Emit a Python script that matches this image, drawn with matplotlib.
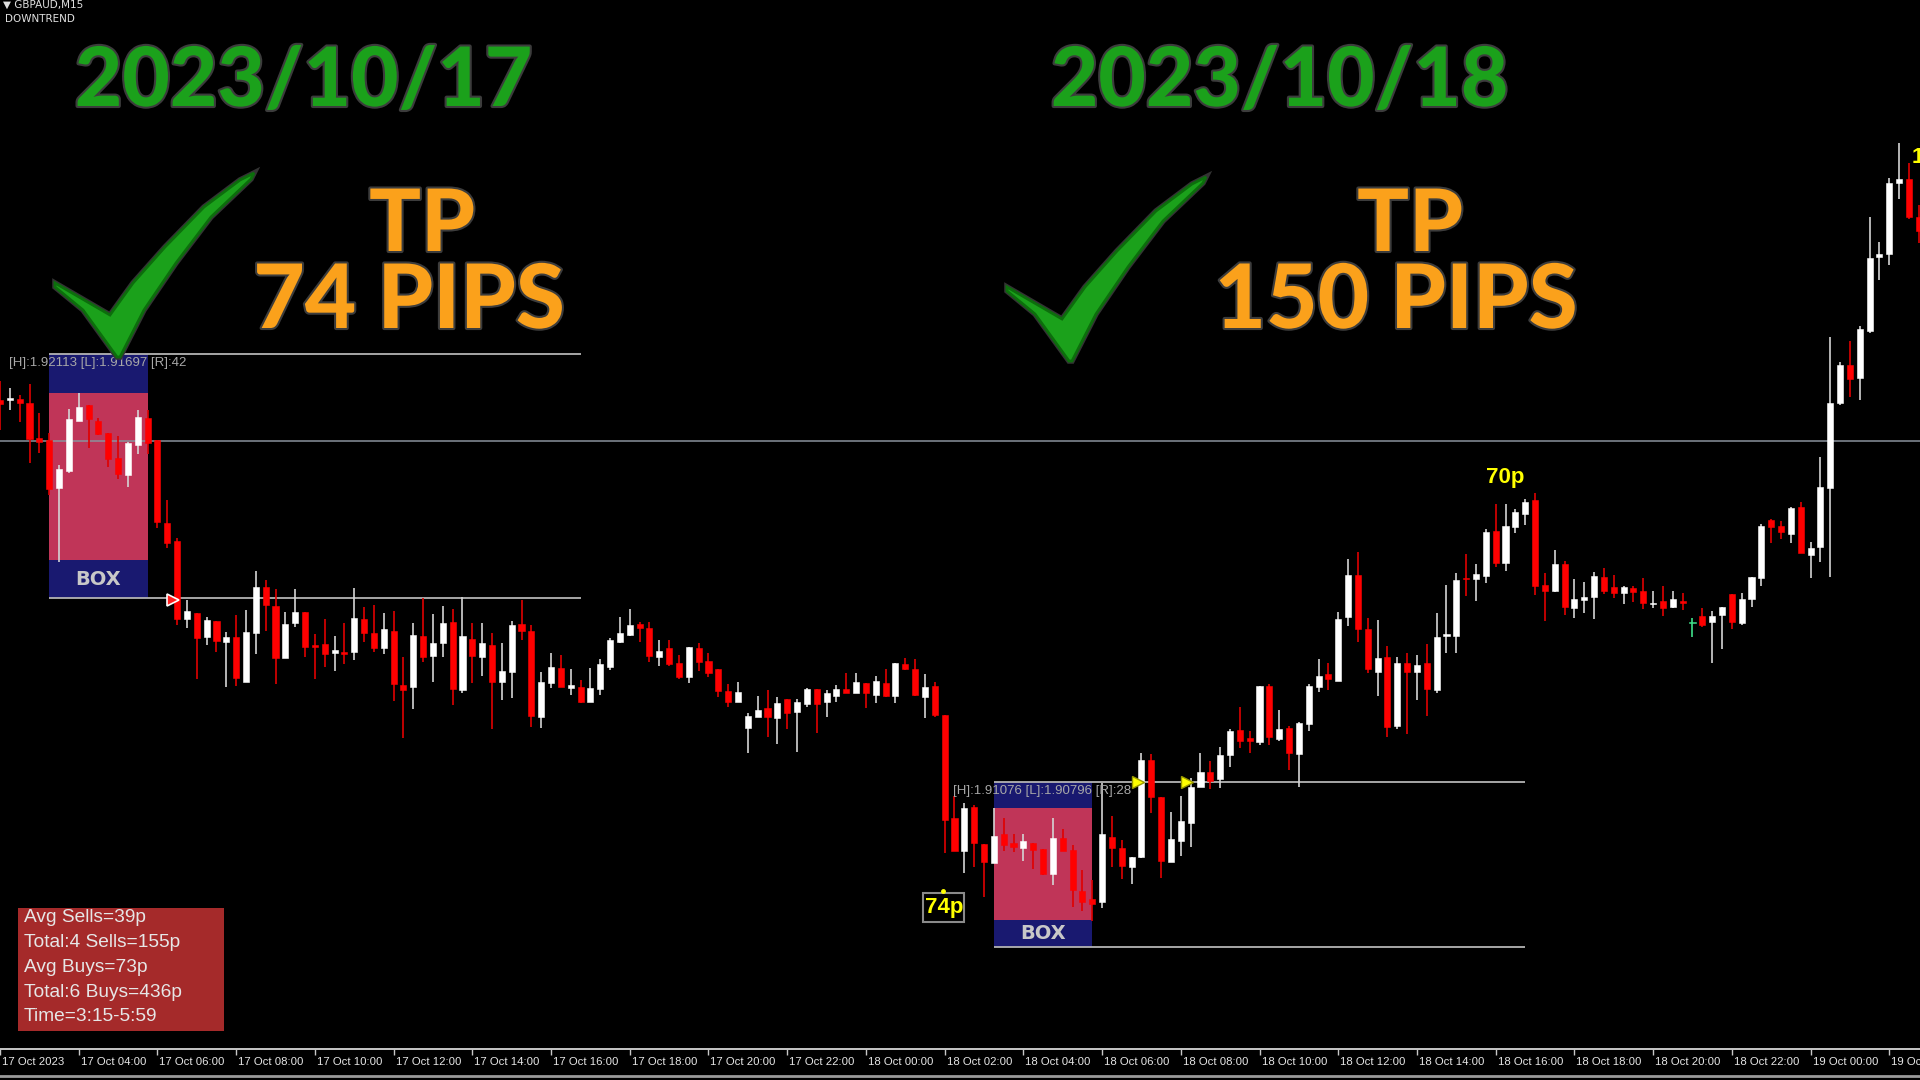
import matplotlib
matplotlib.use("Agg")
import matplotlib.pyplot as plt
import matplotlib.patheffects as pe
from matplotlib import font_manager
from matplotlib.patches import Polygon, Rectangle
from matplotlib.transforms import ScaledTranslation
import numpy as np

# ============================================================
# DATA: GBPAUD M15 candles, 17 Oct 02:00 -> 19 Oct 02:45
# ============================================================
opens = [
    1.92034, 1.92034, 1.92036, 1.92029, 1.91970, 1.91966, 1.91884, 1.91913, 1.91999, 1.92026,
    1.91999, 1.91978, 1.91936, 1.91907, 1.91958, 1.92004, 1.91966, 1.91825, 1.91794, 1.91661,
    1.91671, 1.91631, 1.91658, 1.91622, 1.91631, 1.91554, 1.91637, 1.91716, 1.91683, 1.91595,
    1.91654, 1.91673, 1.91617, 1.91619, 1.91603, 1.91605, 1.91605, 1.91661, 1.91637, 1.91612,
    1.91641, 1.91549, 1.91545, 1.91632, 1.91598, 1.91620, 1.91656, 1.91540, 1.91627, 1.91596,
    1.91617, 1.91554, 1.91571, 1.91653, 1.91641, 1.91494, 1.91552, 1.91578, 1.91544, 1.91545,
    1.91520, 1.91542, 1.91579, 1.91622, 1.91634, 1.91653, 1.91646, 1.91596, 1.91612, 1.91586,
    1.91562, 1.91612, 1.91590, 1.91576, 1.91539, 1.91520, 1.91476, 1.91494, 1.91510, 1.91493,
    1.91525, 1.91503, 1.91516, 1.91542, 1.91520, 1.91530, 1.91542, 1.91535, 1.91552, 1.91532,
    1.91552, 1.91530, 1.91585, 1.91576, 1.91528, 1.91547, 1.91498, 1.91322, 1.91266, 1.91341,
    1.91278, 1.91245, 1.91295, 1.91280, 1.91271, 1.91280, 1.91269, 1.91227, 1.91288, 1.91268,
    1.91198, 1.91184, 1.91179, 1.91290, 1.91271, 1.91239, 1.91256, 1.91421, 1.91358, 1.91247,
    1.91283, 1.91314, 1.91375, 1.91401, 1.91389, 1.91430, 1.91472, 1.91458, 1.91452, 1.91547,
    1.91457, 1.91476, 1.91431, 1.91482, 1.91545, 1.91568, 1.91556, 1.91665, 1.91736, 1.91644,
    1.91571, 1.91596, 1.91479, 1.91586, 1.91571, 1.91586, 1.91540, 1.91632, 1.91632, 1.91731,
    1.91729, 1.91735, 1.91811, 1.91757, 1.91818, 1.91840, 1.91864, 1.91719, 1.91709, 1.91755,
    1.91680, 1.91694, 1.91699, 1.91733, 1.91716, 1.91706, 1.91714, 1.91709, 1.91687, 1.91692,
    1.91682, 1.91692, 1.91654, 1.91666, 1.91656, 1.91668, 1.91704, 1.91654, 1.91695, 1.91731,
    1.91830, 1.91820, 1.91806, 1.91852, 1.91770, 1.91784, 1.91884, 1.92029, 1.92094, 1.92072,
    1.92152, 1.92278, 1.92283, 1.92404, 1.92411, 1.92346,
]
highs = [
    1.92067, 1.92055, 1.92043, 1.92062, 1.92012, 1.91978, 1.91924, 1.92019, 1.92046, 1.92026,
    1.92004, 1.91978, 1.91973, 1.91963, 1.92017, 1.92017, 1.91966, 1.91864, 1.91799, 1.91694,
    1.91671, 1.91665, 1.91658, 1.91639, 1.91668, 1.91677, 1.91743, 1.91728, 1.91712, 1.91673,
    1.91712, 1.91673, 1.91636, 1.91661, 1.91632, 1.91654, 1.91714, 1.91682, 1.91685, 1.91671,
    1.91675, 1.91596, 1.91654, 1.91697, 1.91670, 1.91683, 1.91678, 1.91699, 1.91654, 1.91654,
    1.91637, 1.91620, 1.91658, 1.91694, 1.91651, 1.91571, 1.91603, 1.91600, 1.91576, 1.91557,
    1.91578, 1.91593, 1.91629, 1.91665, 1.91678, 1.91656, 1.91656, 1.91625, 1.91625, 1.91600,
    1.91614, 1.91620, 1.91603, 1.91576, 1.91551, 1.91554, 1.91501, 1.91530, 1.91540, 1.91528,
    1.91525, 1.91525, 1.91544, 1.91542, 1.91540, 1.91549, 1.91569, 1.91569, 1.91552, 1.91564,
    1.91576, 1.91586, 1.91595, 1.91593, 1.91568, 1.91554, 1.91498, 1.91360, 1.91348, 1.91344,
    1.91278, 1.91339, 1.91322, 1.91295, 1.91295, 1.91280, 1.91269, 1.91322, 1.91303, 1.91276,
    1.91234, 1.91217, 1.91382, 1.91326, 1.91285, 1.91256, 1.91433, 1.91431, 1.91358, 1.91332,
    1.91360, 1.91390, 1.91433, 1.91419, 1.91443, 1.91474, 1.91511, 1.91470, 1.91547, 1.91551,
    1.91506, 1.91479, 1.91486, 1.91551, 1.91593, 1.91586, 1.91673, 1.91764, 1.91775, 1.91663,
    1.91660, 1.91615, 1.91596, 1.91603, 1.91600, 1.91619, 1.91671, 1.91719, 1.91740, 1.91772,
    1.91755, 1.91815, 1.91857, 1.91857, 1.91849, 1.91866, 1.91876, 1.91740, 1.91779, 1.91760,
    1.91729, 1.91724, 1.91741, 1.91748, 1.91736, 1.91718, 1.91718, 1.91731, 1.91709, 1.91718,
    1.91709, 1.91706, 1.91663, 1.91680, 1.91675, 1.91682, 1.91704, 1.91706, 1.91733, 1.91823,
    1.91832, 1.91828, 1.91852, 1.91861, 1.91792, 1.91937, 1.92142, 1.92099, 1.92135, 1.92161,
    1.92346, 1.92304, 1.92413, 1.92472, 1.92438, 1.92367,
]
lows = [
    1.91983, 1.92017, 1.91997, 1.91927, 1.91944, 1.91873, 1.91758, 1.91910, 1.91999, 1.91953,
    1.91975, 1.91920, 1.91900, 1.91886, 1.91942, 1.91942, 1.91816, 1.91782, 1.91651, 1.91646,
    1.91559, 1.91617, 1.91605, 1.91545, 1.91547, 1.91554, 1.91602, 1.91641, 1.91551, 1.91595,
    1.91648, 1.91596, 1.91559, 1.91579, 1.91573, 1.91585, 1.91591, 1.91622, 1.91605, 1.91602,
    1.91522, 1.91458, 1.91508, 1.91588, 1.91554, 1.91596, 1.91515, 1.91535, 1.91552, 1.91564,
    1.91474, 1.91523, 1.91527, 1.91625, 1.91477, 1.91476, 1.91544, 1.91545, 1.91532, 1.91518,
    1.91520, 1.91532, 1.91574, 1.91620, 1.91632, 1.91622, 1.91588, 1.91581, 1.91581, 1.91559,
    1.91552, 1.91573, 1.91562, 1.91528, 1.91511, 1.91520, 1.91433, 1.91494, 1.91460, 1.91448,
    1.91474, 1.91435, 1.91511, 1.91467, 1.91494, 1.91520, 1.91535, 1.91535, 1.91510, 1.91518,
    1.91528, 1.91518, 1.91574, 1.91530, 1.91493, 1.91494, 1.91262, 1.91266, 1.91228, 1.91239,
    1.91188, 1.91245, 1.91266, 1.91264, 1.91249, 1.91235, 1.91225, 1.91208, 1.91266, 1.91170,
    1.91164, 1.91147, 1.91169, 1.91239, 1.91218, 1.91210, 1.91254, 1.91331, 1.91220, 1.91247,
    1.91257, 1.91273, 1.91375, 1.91372, 1.91373, 1.91409, 1.91441, 1.91433, 1.91447, 1.91447,
    1.91453, 1.91404, 1.91375, 1.91470, 1.91537, 1.91540, 1.91556, 1.91649, 1.91622, 1.91569,
    1.91530, 1.91460, 1.91474, 1.91465, 1.91523, 1.91496, 1.91535, 1.91603, 1.91603, 1.91700,
    1.91692, 1.91723, 1.91750, 1.91743, 1.91808, 1.91821, 1.91702, 1.91658, 1.91707, 1.91668,
    1.91663, 1.91671, 1.91661, 1.91704, 1.91697, 1.91687, 1.91690, 1.91678, 1.91680, 1.91666,
    1.91680, 1.91677, 1.91631, 1.91648, 1.91586, 1.91610, 1.91644, 1.91651, 1.91682, 1.91718,
    1.91791, 1.91798, 1.91791, 1.91774, 1.91731, 1.91758, 1.91733, 1.92026, 1.92040, 1.92034,
    1.92149, 1.92239, 1.92264, 1.92377, 1.92343, 1.92302,
]
closes = [
    1.92028, 1.92038, 1.92029, 1.91968, 1.91963, 1.91883, 1.91917, 1.92002, 1.92023, 1.92002,
    1.91976, 1.91934, 1.91908, 1.91961, 1.92005, 1.91961, 1.91826, 1.91791, 1.91661, 1.91675,
    1.91629, 1.91660, 1.91624, 1.91631, 1.91561, 1.91639, 1.91716, 1.91685, 1.91595, 1.91653,
    1.91673, 1.91614, 1.91614, 1.91602, 1.91608, 1.91602, 1.91663, 1.91637, 1.91612, 1.91644,
    1.91551, 1.91540, 1.91634, 1.91596, 1.91620, 1.91654, 1.91542, 1.91632, 1.91598, 1.91620,
    1.91554, 1.91573, 1.91651, 1.91641, 1.91496, 1.91554, 1.91579, 1.91545, 1.91549, 1.91520,
    1.91544, 1.91585, 1.91625, 1.91637, 1.91651, 1.91646, 1.91598, 1.91607, 1.91585, 1.91562,
    1.91614, 1.91588, 1.91569, 1.91539, 1.91520, 1.91537, 1.91496, 1.91506, 1.91494, 1.91518,
    1.91501, 1.91520, 1.91542, 1.91516, 1.91535, 1.91542, 1.91535, 1.91554, 1.91535, 1.91556,
    1.91530, 1.91586, 1.91576, 1.91532, 1.91545, 1.91498, 1.91319, 1.91266, 1.91339, 1.91280,
    1.91247, 1.91291, 1.91276, 1.91273, 1.91283, 1.91268, 1.91227, 1.91288, 1.91266, 1.91199,
    1.91179, 1.91176, 1.91295, 1.91271, 1.91240, 1.91256, 1.91421, 1.91358, 1.91249, 1.91286,
    1.91317, 1.91375, 1.91401, 1.91385, 1.91430, 1.91470, 1.91453, 1.91453, 1.91547, 1.91460,
    1.91474, 1.91433, 1.91484, 1.91547, 1.91564, 1.91559, 1.91661, 1.91736, 1.91644, 1.91576,
    1.91595, 1.91477, 1.91586, 1.91571, 1.91583, 1.91542, 1.91631, 1.91636, 1.91728, 1.91729,
    1.91738, 1.91810, 1.91757, 1.91820, 1.91844, 1.91861, 1.91718, 1.91709, 1.91755, 1.91682,
    1.91695, 1.91699, 1.91735, 1.91709, 1.91706, 1.91716, 1.91707, 1.91689, 1.91689, 1.91680,
    1.91695, 1.91689, 1.91656, 1.91651, 1.91666, 1.91682, 1.91656, 1.91695, 1.91733, 1.91820,
    1.91818, 1.91810, 1.91850, 1.91774, 1.91782, 1.91886, 1.92029, 1.92094, 1.92070, 1.92155,
    1.92276, 1.92283, 1.92404, 1.92411, 1.92346, 1.92322,
]
special_candle = 172   # the lone green cross

tick_labels = [
    "17 Oct 2023", "17 Oct 04:00", "17 Oct 06:00", "17 Oct 08:00", "17 Oct 10:00",
    "17 Oct 12:00", "17 Oct 14:00", "17 Oct 16:00", "17 Oct 18:00", "17 Oct 20:00",
    "17 Oct 22:00", "18 Oct 00:00", "18 Oct 02:00", "18 Oct 04:00", "18 Oct 06:00",
    "18 Oct 08:00", "18 Oct 10:00", "18 Oct 12:00", "18 Oct 14:00", "18 Oct 16:00",
    "18 Oct 18:00", "18 Oct 20:00", "18 Oct 22:00", "19 Oct 00:00", "19 Oct 02:00",
]

# breakout boxes (candle index / price)
box_starts = [5, 101]
box_ends = [15, 111]
line_ends = [59, 155]
box_highs = [1.92113, 1.91384]
box_lows = [1.91697, 1.91103]
box_inner_tops = [1.92047, 1.91340]
box_inner_bottoms = [1.91762, 1.91149]
box_labels = ["[H]:1.92113 [L]:1.91697 [R]:42", "[H]:1.91076 [L]:1.90796 [R]:28"]
level_line = 1.91965

dates = ["2023/10/17", "2023/10/18"]
tp_pips = ["74 PIPS", "150 PIPS"]
info_lines = ["Avg Sells=39p", "Total:4 Sells=155p", "Avg Buys=73p",
              "Total:6 Buys=436p", "Time=3:15-5:59"]

# ============================================================
# FONTS
# ============================================================
names = {f.name for f in font_manager.fontManager.ttflist}
narrow = "Liberation Sans Narrow" in names
small_font = "Liberation Sans Narrow" if narrow else "Liberation Sans"
tick_size = 10 if narrow else 8.2
info_size = 16.5 if narrow else 13.8

GREEN = "#1ba11b"
ORANGE = "#fba11b"
NAVY = "#191970"
PINK = "#c03558"

# ============================================================
# CHART
# ============================================================
bar_px = 9.84
fig = plt.figure(figsize=(19.2, 10.8), dpi=100, facecolor="black")
ax = fig.add_axes([0, 31 / 1080, 1, 1049 / 1080], facecolor="black")
ax.set_xlim(0, 1920 / bar_px)
ax.set_ylim(1.909289, 1.92716)

o = np.array(opens)
h = np.array(highs)
l = np.array(lows)
c = np.array(closes)
x = np.arange(len(o))
up = c >= o
body_cols = np.where(up, "#ffffff", "#ff0000").astype(object)
wick_cols = np.where(up, "#d4d4d4", "#e00000").astype(object)
body_cols[special_candle] = "#3fe08a"
wick_cols[special_candle] = "#3fe08a"

bottoms = np.minimum(o, c)
heights = np.maximum(np.abs(c - o), 0.000018)

# boxes and their range lines
for s, e, le, hi, lo, it, ib, lab in zip(box_starts, box_ends, line_ends, box_highs,
                                         box_lows, box_inner_tops, box_inner_bottoms, box_labels):
    ax.add_patch(Rectangle((s, lo), e - s, hi - lo, facecolor=NAVY, edgecolor="none", zorder=1))
    ax.add_patch(Rectangle((s, ib), e - s, it - ib, facecolor=PINK, edgecolor="none", zorder=1.2))
    ax.hlines([hi, lo], s, le, colors="#b4b4b4", lw=1.3, zorder=2)
    ax.text((s + e) / 2, (lo + ib) / 2, "BOX", ha="center", va="center", color="#c8c8c8",
            fontsize=14, fontweight="bold", family="DejaVu Sans", zorder=5)
    ax.text(s - 4.1, hi - 0.00016, lab, ha="left", va="center", color="#a8a8a8",
            fontsize=9.5, family="Liberation Sans", zorder=6)

ax.axhline(level_line, color="#8a929c", lw=1.1, zorder=2.5)

ax.vlines(x, l, h, colors=list(wick_cols), lw=1.2, zorder=3)
ax.bar(x, heights, bottom=bottoms, width=0.62, color=list(body_cols),
       edgecolor=list(body_cols), lw=0.4, zorder=4)

for side in ["top", "left", "right"]:
    ax.spines[side].set_visible(False)
ax.spines["bottom"].set_color("#c8c8c8")
ax.spines["bottom"].set_linewidth(1.4)
ax.set_yticks([])
ax.set_xticks(np.arange(0, len(tick_labels) * 8, 8))
ax.set_xticklabels(tick_labels, ha="left", family=small_font, fontsize=tick_size)
ax.tick_params(axis="x", colors="#c8c8c8", labelcolor="#e6e6e6", length=4, width=1, pad=1.5)
for lbl in ax.get_xticklabels():
    lbl.set_transform(lbl.get_transform() + ScaledTranslation(2 / 100, 0, fig.dpi_scale_trans))

# ============================================================
# OVERLAY (pixel space) for the annotations
# ============================================================
ov = fig.add_axes([0, 0, 1, 1])
ov.set_xlim(0, 1920)
ov.set_ylim(1080, 0)
ov.axis("off")
ov.patch.set_alpha(0)

ov.plot([0, 1920], [1076, 1076], color="#9a9a9a", lw=2)
ov.text(3, 5, "\u25bc GBPAUD,M15", color="#e0e0e0", fontsize=7.5, va="center", family="DejaVu Sans")
ov.text(5, 19, "DOWNTREND", color="#e0e0e0", fontsize=7.5, va="center", family="DejaVu Sans")

glow = [pe.withStroke(linewidth=3, foreground="#3c3c3c")]
for cx, d in zip([304, 1280], dates):
    ov.text(cx, 106, d, ha="center", va="baseline", fontsize=59, family="Lato",
            fontweight="black", color=GREEN, path_effects=glow)

for cx_tp, cx_p, p in zip([422, 1410], [409, 1396], tp_pips):
    ov.text(cx_tp, 251, "TP", ha="center", va="baseline", fontsize=62, family="Lato",
            fontweight="black", color=ORANGE, path_effects=glow)
    ov.text(cx_p, 328, p, ha="center", va="baseline", fontsize=64, family="Lato",
            fontweight="black", color=ORANGE, path_effects=glow)

check_pts = np.array([
    (55, 283), (110, 315), (133, 283), (165, 247), (204, 207), (240, 180), (254, 173),
    (251, 179), (211, 217), (176, 263), (144, 310), (120, 357), (117, 357), (83, 310), (55, 287),
])
for dx, dy in [(0, 0), (952, 4)]:
    poly = Polygon(check_pts + [dx, dy], closed=True, facecolor=GREEN, edgecolor="#0c6e0c",
                   lw=2, zorder=5)
    poly.set_path_effects([pe.Stroke(linewidth=4, foreground="#333333"), pe.Normal()])
    ov.add_patch(poly)

# pips labels
ov.text(1505, 478, "70p", ha="center", va="center", color="#ffff00", fontsize=16,
        fontweight="bold", family="Liberation Sans")
ov.text(1912, 157, "150p", ha="left", va="center", color="#ffff00", fontsize=16,
        fontweight="bold", family="Liberation Sans")
ov.add_patch(Rectangle((923, 893), 41, 29, facecolor="black", edgecolor="#8a8a8a", lw=1.5))
ov.text(944, 908, "74p", ha="center", va="center", color="#ffff00", fontsize=16,
        fontweight="bold", family="Liberation Sans")
ov.plot(943, 891, marker="o", ms=2.5, color="#ffff00")

# signal arrows
ov.plot([1138, 1187], [782, 782], ls="none", marker=">", ms=9, color="#ffff00", mec="#9a9a00", mew=1)
ov.plot(173, 600, marker=">", ms=9, color="#ff2020", mec="white", mew=1.2)

# stats panel
ov.add_patch(Rectangle((18, 908), 206, 123, facecolor="#a52a2a", edgecolor="none"))
for k, t in enumerate(info_lines):
    ov.text(24, 918 + k * 24.7, t, ha="left", va="center", color="#e6e6e6",
            fontsize=info_size, family=small_font)

fig.savefig("out.png", dpi=100, facecolor="black")
